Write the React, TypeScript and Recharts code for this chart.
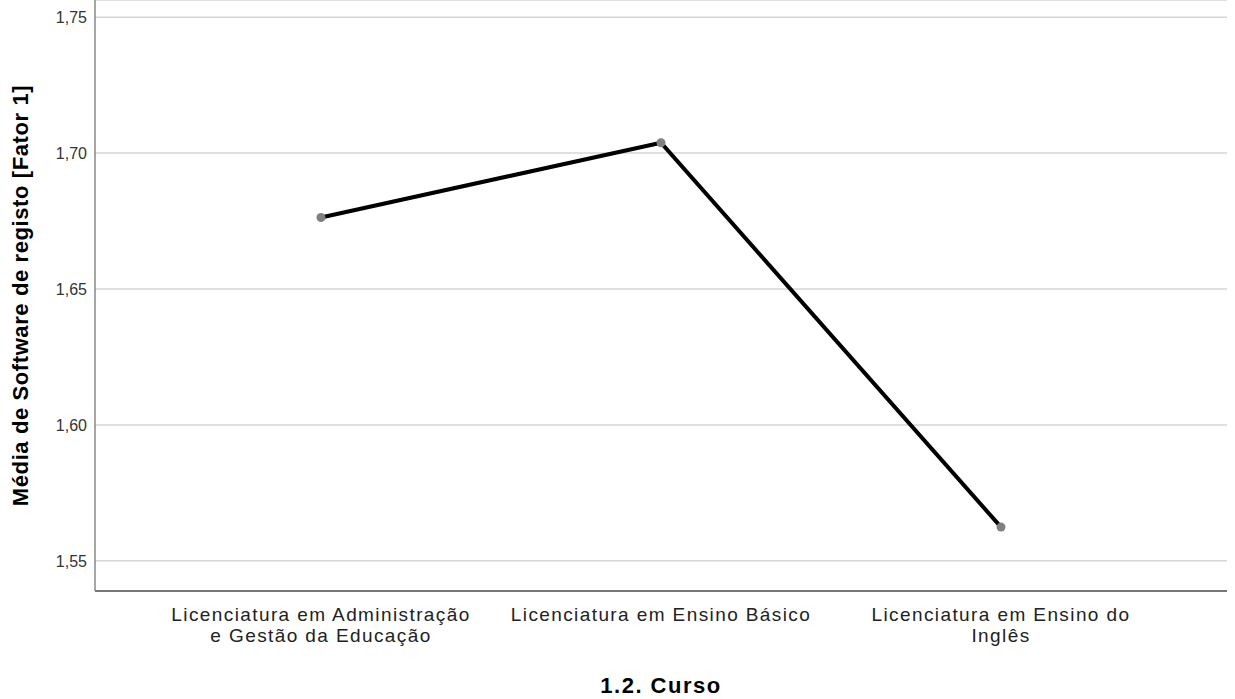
import React from 'react';
import { LineChart, Line, XAxis, YAxis, CartesianGrid, Label } from 'recharts';

const cursos = [
  'Licenciatura em Administração e Gestão da Educação',
  'Licenciatura em Ensino Básico',
  'Licenciatura em Ensino do Inglês',
];

const medias = [1.6763, 1.7038, 1.5624];

const yTicks = [1.55, 1.6, 1.65, 1.7, 1.75];

// how each category label is broken over lines under the axis
const tickLines: Record<string, string[]> = {
  'Licenciatura em Administração e Gestão da Educação': ['Licenciatura em Administração', 'e Gestão da Educação'],
  'Licenciatura em Ensino Básico': ['Licenciatura em Ensino Básico'],
  'Licenciatura em Ensino do Inglês': ['Licenciatura em Ensino do', 'Inglês'],
};

const data = cursos.map((curso, i) => ({ curso, media: medias[i] }));

const FONT = '"Liberation Sans", Arial, sans-serif';

function CursoTick(props: any) {
  const { x, y, payload } = props;
  const lines = tickLines[payload.value] || [payload.value];
  return (
    <text
      x={x}
      y={y + 22}
      textAnchor="middle"
      fill="#222"
      fontSize={19}
      letterSpacing={1.4}
      fontFamily={FONT}
    >
      {lines.map((l, i) => (
        <tspan key={i} x={x} dy={i === 0 ? 0 : 21}>
          {l}
        </tspan>
      ))}
    </text>
  );
}

export default function App() {
  return (
    <div style={{ position: 'absolute', left: 0, top: 0, background: '#fff' }}>
      <LineChart
        width={1235}
        height={699}
        data={data}
        margin={{ top: 0, right: 8, left: 0, bottom: 0 }}
        style={{ fontFamily: FONT }}
      >
        <CartesianGrid horizontal vertical={false} stroke="#d6d6d6" strokeWidth={1.5} />
        <XAxis
          dataKey="curso"
          height={108}
          padding={{ left: 226, right: 226 }}
          tickLine={false}
          axisLine={{ stroke: '#555', strokeWidth: 1.5 }}
          tick={<CursoTick />}
          interval={0}
        >
          <Label
            value="1.2. Curso"
            position="insideBottom"
            offset={6}
            style={{ fontSize: 22, fontWeight: 'bold', fill: '#000', fontFamily: FONT, letterSpacing: 1.5 }}
          />
        </XAxis>
        <YAxis
          width={95}
          type="number"
          domain={[1.5389, 1.7563]}
          ticks={yTicks}
          tickLine={false}
          axisLine={{ stroke: '#888', strokeWidth: 1.5 }}
          tick={{ fontSize: 16, fill: '#333', fontFamily: FONT }}
          tickFormatter={(v: number) => v.toFixed(2).replace('.', ',')}
        >
          <Label
            value="Média de Software de registo [Fator 1]"
            angle={-90}
            position="insideLeft"
            offset={20}
            style={{ fontSize: 22, fontWeight: 'bold', fill: '#000', fontFamily: FONT, textAnchor: 'middle', letterSpacing: 0.6 }}
          />
        </YAxis>
        <Line
          type="linear"
          dataKey="media"
          stroke="#000"
          strokeWidth={4}
          dot={{ r: 4.5, fill: '#808080', stroke: 'none' }}
          activeDot={false}
          isAnimationActive={false}
        />
      </LineChart>
    </div>
  );
}
